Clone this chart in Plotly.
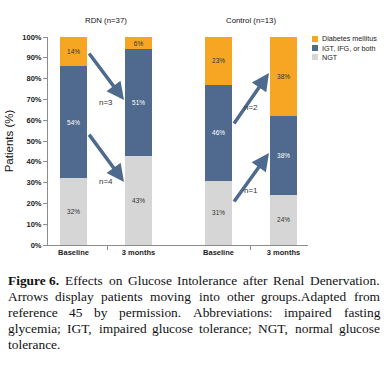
import plotly.graph_objects as go

# ---------------- data ----------------
groups = ["RDN (n=37)", "Control (n=13)"]
timepoints = ["Baseline", "3 months"]
series_names = ["NGT", "IGT, IFG, or both", "Diabetes mellitus"]
ngt = [32, 43, 31, 24]
igt = [54, 51, 46, 38]
dm = [14, 6, 23, 38]
# arrows: (from bar, to bar, start %, end %, label)
arrow_from = [0, 0, 2, 2]
arrow_to = [1, 1, 3, 3]
arrow_start = [92.8, 53.8, 57.7, 20.2]
arrow_end = [69.7, 30.3, 82.7, 44.2]
arrow_labels = ["n=3", "n=4", "n=2", "n=1"]
arrow_label_y = [68.3, 30.3, 65.9, 26.4]
y_ticks = [0, 10, 20, 30, 40, 50, 60, 70, 80, 90, 100]
caption_lines = [
    ["<b>Figure 6.</b>", "Effects", "on", "Glucose", "Intolerance", "after", "Renal", "Denervation."],
    ["Arrows", "display", "patients", "moving", "into", "other", "groups.Adapted", "from"],
    ["reference", "45", "by", "permission.", "Abbreviations:", "impaired", "fasting"],
    ["glycemia;", "IGT,", "impaired", "glucose", "tolerance;", "NGT,", "normal", "glucose"],
    ["tolerance."],
]

# ---------------- styling / layout ----------------
W, H = 391, 366
ML, MR, MT, MB = 48, 83, 37, 121
PW, PH = W - ML - MR, H - MT - MB
bar_x = [25.5, 90.5, 170.5, 235.5]
bar_w = 27
group_x = [58, 203]
minor_ticks = [59, 202]
C_DM = "#F6A623"
C_IGT = "#4F6A8E"
C_NGT = "#D6D6D6"
C_ARROW = "#4E6B8F"
SANS = "Arial, Liberation Sans, sans-serif"
SERIF = "Times New Roman, Liberation Serif, serif"


def px_x(px):
    return (px - ML) / PW


def px_y(py):
    return (H - MB - py) / PH


fig = go.Figure()
for name, vals, col, tcol in [
    (series_names[0], ngt, C_NGT, "#333333"),
    (series_names[1], igt, C_IGT, "#FFFFFF"),
    (series_names[2], dm, C_DM, "#333333"),
]:
    fig.add_trace(go.Bar(
        x=bar_x, y=vals, width=bar_w, name=name,
        marker=dict(color=col, line=dict(width=0)),
        text=[f"{v}%" for v in vals], textposition="inside",
        insidetextanchor="middle", textangle=0,
        textfont=dict(family=SANS, size=7, color=tcol),
        showlegend=False, hoverinfo="skip",
    ))

fig.update_layout(
    width=W, height=H, barmode="stack",
    margin=dict(l=ML, r=MR, t=MT, b=MB, pad=0, autoexpand=False),
    paper_bgcolor="white", plot_bgcolor="white",
    uniformtext=dict(minsize=6, mode="show"),
)
fig.update_xaxes(
    range=[0, PW], showgrid=False, zeroline=False, automargin=False,
    showline=True, linecolor="#8C8C8C", linewidth=1,
    tickvals=bar_x, ticktext=timepoints * 2, ticks="", ticklen=0,
    tickfont=dict(family=SANS, size=7.5, color="#222222", weight="bold"),
    minor=dict(tickvals=minor_ticks, ticks="outside", ticklen=4,
               tickcolor="#8C8C8C", showgrid=False),
)
fig.update_yaxes(
    range=[0, 100], showgrid=False, zeroline=False, automargin=False,
    showline=True, linecolor="#8C8C8C", linewidth=1,
    tickvals=y_ticks, ticktext=[f"{v}%" for v in y_ticks],
    ticks="outside", ticklen=4, tickcolor="#8C8C8C",
    tickfont=dict(family=SANS, size=7.5, color="#222222", weight="bold"),
    title=dict(text="Patients (%)", font=dict(family=SANS, size=11.5, color="#111111"),
               standoff=6),
)

anns = []
# group titles
for gx, g in zip(group_x, groups):
    anns.append(dict(x=gx, y=px_y(20), xref="x", yref="paper",
                     xanchor="center", yanchor="middle",
                     text=g, showarrow=False,
                     font=dict(family=SANS, size=7.8, color="#111111")))
# arrows
for f, t, s, e, lab, ly in zip(arrow_from, arrow_to, arrow_start, arrow_end,
                               arrow_labels, arrow_label_y):
    x0 = bar_x[f] + bar_w / 2 + 1
    x1 = bar_x[t] - bar_w / 2 - 1
    anns.append(dict(x=x1, y=e, ax=x0, ay=s, xref="x", yref="y",
                     axref="x", ayref="y", text="", showarrow=True,
                     arrowhead=2, arrowsize=1, arrowwidth=3.5,
                     arrowcolor=C_ARROW, standoff=0, startstandoff=0))
    anns.append(dict(x=(bar_x[f] + bar_x[t]) / 2, y=ly, xref="x", yref="y",
                     xanchor="center", yanchor="middle",
                     text=lab, showarrow=False,
                     font=dict(family=SANS, size=8, color="#333333")))

# manual legend
leg_items = [(series_names[2], C_DM, 39), (series_names[1], C_IGT, 48), (series_names[0], C_NGT, 57)]
shapes = []
for name, col, py in leg_items:
    shapes.append(dict(type="rect", xref="paper", yref="paper",
                       x0=px_x(312), x1=px_x(318),
                       y0=px_y(py + 3), y1=px_y(py - 3),
                       fillcolor=col, line=dict(width=0)))
    anns.append(dict(x=px_x(319.5), y=px_y(py), xref="paper", yref="paper",
                     xanchor="left", yanchor="middle", text=name, showarrow=False,
                     font=dict(family=SANS, size=7.2, color="#222222")))

# caption: justified text, word widths from Times metrics (1/1000 em)
TW = {" ": 250, ",": 250, ".": 250, ":": 278, ";": 278,
      "A": 722, "B": 667, "C": 667, "D": 722, "E": 611, "F": 556, "G": 722, "I": 333,
      "N": 722, "R": 667, "T": 611,
      "a": 444, "b": 500, "c": 444, "d": 500, "e": 444, "f": 333, "g": 500, "h": 500,
      "i": 278, "j": 278, "k": 500, "l": 278, "m": 778, "n": 500, "o": 500, "p": 500,
      "q": 500, "r": 333, "s": 389, "t": 278, "u": 500, "v": 500, "w": 722, "x": 500,
      "y": 500, "z": 444}
TWB = {"F": 611, "i": 278, "g": 500, "u": 556, "r": 444, "e": 444, " ": 250, ".": 250}


def word_w(word, fs):
    if word.startswith("<b>"):
        plain = word[3:-4]
        return sum(TWB.get(c, 500) for c in plain) * fs / 1000
    return sum(TW.get(c, 500) for c in word) * fs / 1000


CAP_FS = 13.4
CAP_L, CAP_R = 7, 379
cap_y = [280, 296, 312, 328, 344]
for li, (line, py) in enumerate(zip(caption_lines, cap_y)):
    widths = [word_w(w, CAP_FS) for w in line]
    if li < len(caption_lines) - 1 and len(line) > 1:
        gap = (CAP_R - CAP_L - sum(widths)) / (len(line) - 1)
    else:
        gap = 0.25 * CAP_FS
    x = CAP_L
    for w, wd in zip(line, widths):
        anns.append(dict(x=px_x(x), y=px_y(py), xref="paper", yref="paper",
                         xanchor="left", yanchor="middle", text=w, showarrow=False,
                         borderpad=0,
                         font=dict(family=SERIF, size=CAP_FS, color="#111111")))
        x += wd + gap

fig.update_layout(annotations=anns, shapes=shapes)
fig.write_html(
    "out.html",
    config={"displayModeBar": False},
    post_script="document.body.style.margin='0';document.body.style.overflow='hidden';",
)
